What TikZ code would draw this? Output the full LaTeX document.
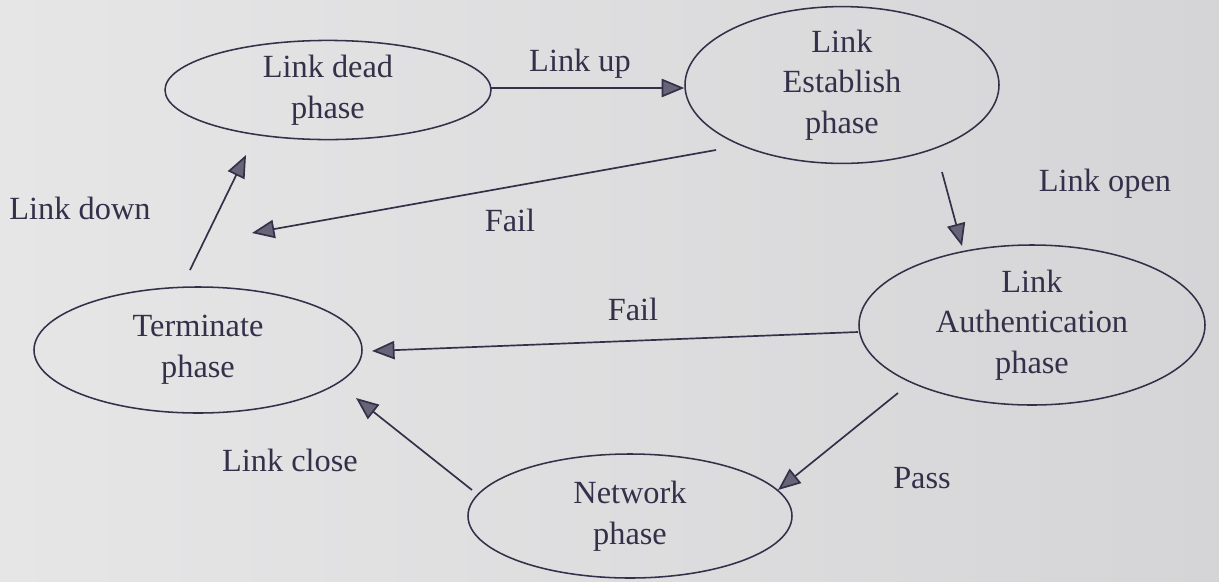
\documentclass[tikz,border=0pt]{standalone}
\usepackage{fontspec}
\setmainfont{Liberation Serif}
\usetikzlibrary{shapes.geometric,arrows.meta,calc}
\definecolor{ink}{HTML}{35304A}
\definecolor{paperA}{HTML}{E6E6E7}
\definecolor{paperB}{HTML}{D5D5D7}
\tikzset{
  phase/.style={ellipse, draw=ink, line width=1.1pt, inner sep=0pt,
    align=center, text=ink, font=\fontsize{23}{29}\selectfont},
  lbl/.style={text=ink, font=\fontsize{23}{29}\selectfont, inner sep=0pt},
  arr/.style={draw=ink, line width=1.2pt,
    -{Triangle[length=16pt,width=13pt,fill=ink!75]}},
}
\begin{document}
\begin{tikzpicture}[x=0.025cm,y=-0.025cm]
  % paper
  \shade[left color=paperA, right color=paperB] (0,0) rectangle (1219,581);
  \useasboundingbox (0,0) rectangle (1219,581);

  % states
  \node[phase, minimum width=326*0.025cm, minimum height=98*0.025cm]
    (dead) at (328,90) {Link dead\\phase};
  \node[phase, minimum width=314*0.025cm, minimum height=146*0.025cm]
    (est) at (842,85) {Link\\Establish\\phase};
  \node[phase, minimum width=346*0.025cm, minimum height=160*0.025cm]
    (auth) at (1032,325) {Link\\Authentication\\phase};
  \node[phase, minimum width=328*0.025cm, minimum height=126*0.025cm]
    (term) at (198,350) {Terminate\\phase};
  \node[phase, minimum width=324*0.025cm, minimum height=124*0.025cm]
    (net) at (630,516) {Network\\phase};

  % loose ends of the transitions
  \coordinate (failEnd)   at (252,233);
  \coordinate (estOut)    at (716,150);
  \coordinate (openFrom)  at (942,172);
  \coordinate (openTo)    at (962,246);
  \coordinate (downFrom)  at (190,270);
  \coordinate (downTo)    at (246,155);
  \coordinate (authOut)   at (858,332);
  \coordinate (failTo)    at (372,351);
  \coordinate (passFrom)  at (898,393);
  \coordinate (passTo)    at (778,490);
  \coordinate (closeFrom) at (472,490);
  \coordinate (closeTo)   at (356,398);
  \coordinate (upFrom)    at (491,88);

  % transitions
  \draw[arr] (upFrom) -- (upFrom -| est.west);
  \draw[arr] (estOut) -- (failEnd);
  \draw[arr] (openFrom) -- (openTo);
  \draw[arr] (downFrom) -- (downTo);
  \draw[arr] (authOut) -- (failTo);
  \draw[arr] (passFrom) -- (passTo);
  \draw[arr] (closeFrom) -- (closeTo);

  % labels
  \node[lbl] (lup)    at (580,64)  {Link up};
  \node[lbl] (lfail1) at (510,220) {Fail};
  \node[lbl] (lopen)  at (1105,184) {Link open};
  \node[lbl] (ldown)  at (80,208)  {Link down};
  \node[lbl] (lfail2) at (633,309) {Fail};
  \node[lbl] (lpass)  at (922,478) {Pass};
  \node[lbl] (lclose) at (290,460) {Link close};
\end{tikzpicture}
\end{document}
